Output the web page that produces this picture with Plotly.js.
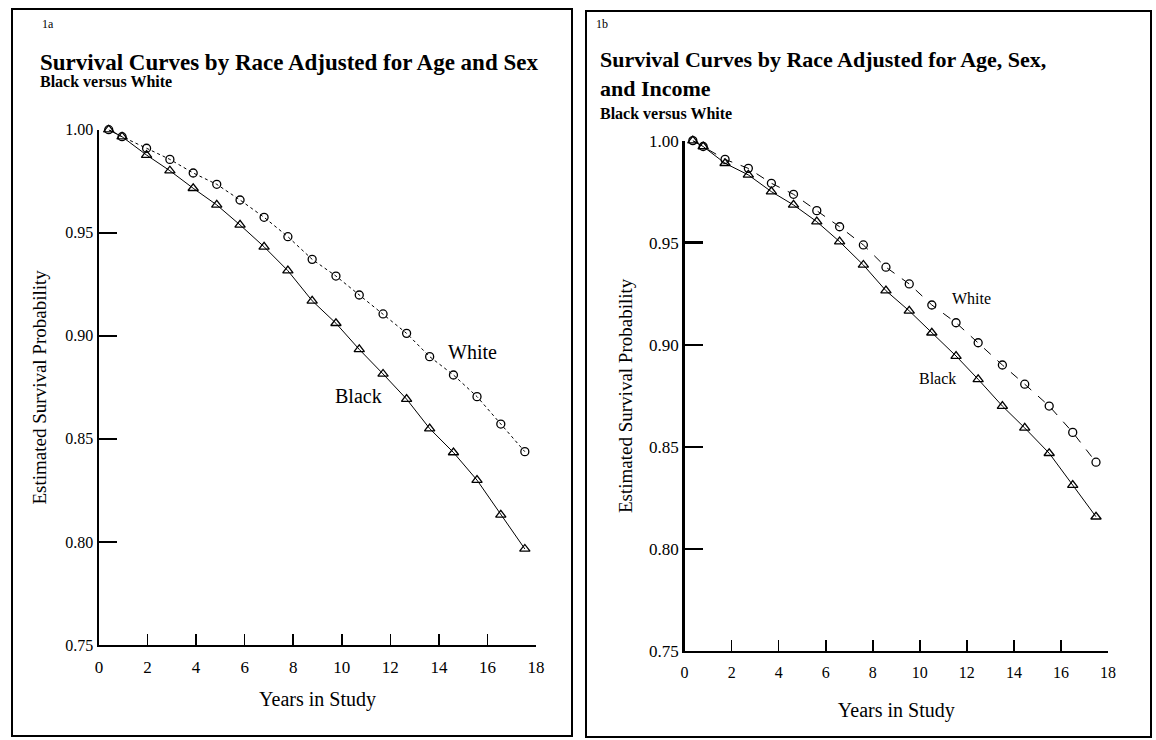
<!DOCTYPE html>
<html><head><meta charset="utf-8">
<script src="https://cdn.plot.ly/plotly-3.0.1.min.js"></script>
<style>html,body{margin:0;padding:0;background:#fff}#chart{width:1156px;height:740px}</style>
</head><body><div id="chart"></div>
<script>
// ---- Data ----
const yearsA = [0.4, 0.95, 1.96, 2.92, 3.88, 4.85, 5.81, 6.80, 7.78, 8.78, 9.76, 10.72, 11.70, 12.67, 13.62, 14.60, 15.57, 16.55, 17.54];
const whiteA = [1.000, 0.9966, 0.9910, 0.9856, 0.9790, 0.9735, 0.9659, 0.9575, 0.9481, 0.9371, 0.9290, 0.9198, 0.9106, 0.9012, 0.8899, 0.8810, 0.8705, 0.8572, 0.8438];
const blackA = [1.000, 0.9966, 0.9877, 0.9801, 0.9716, 0.9635, 0.9538, 0.9432, 0.9316, 0.9170, 0.9061, 0.8934, 0.8815, 0.8693, 0.8550, 0.8434, 0.8300, 0.8131, 0.7966];

const yearsB = [0.35, 0.79, 1.72, 2.71, 3.69, 4.63, 5.62, 6.59, 7.60, 8.56, 9.55, 10.51, 11.54, 12.48, 13.51, 14.46, 15.50, 16.50, 17.49];
const whiteB = [1.000, 0.9971, 0.9908, 0.9864, 0.9791, 0.9737, 0.9657, 0.9578, 0.9489, 0.9380, 0.9298, 0.9195, 0.9108, 0.9010, 0.8901, 0.8807, 0.8700, 0.8571, 0.8425];
const blackB = [1.000, 0.9971, 0.9889, 0.9832, 0.9750, 0.9685, 0.9603, 0.9505, 0.9391, 0.9265, 0.9166, 0.9059, 0.8945, 0.8831, 0.8700, 0.8593, 0.8469, 0.8313, 0.8158];

const xTicks = [0, 2, 4, 6, 8, 10, 12, 14, 16, 18];
const yTicks = [0.75, 0.80, 0.85, 0.90, 0.95, 1.00];

const panelTags = ['1a', '1b'];
const titleA = 'Survival Curves by Race Adjusted for Age and Sex';
const titleB = 'Survival Curves by Race Adjusted for Age, Sex,<br>and Income';
const subTitle = 'Black versus White';
const xTitle = 'Years in Study';
const yTitle = 'Estimated Survival Probability';

// ---- Layout helpers ----
const W = 1156, H = 740;
const px = x => x / W;
const py = y => 1 - y / H;
const serif = 'Liberation Serif, Times New Roman, serif';

function trace(x, y, xa, ya, sym, dash, name) {
  return {
    type: 'scatter', mode: 'lines+markers', x: x, y: y, xaxis: xa, yaxis: ya, name: name,
    line: {color: '#000', width: 1, dash: dash},
    marker: {symbol: sym, size: sym.startsWith('triangle') ? 9 : 8, color: '#000', line: {color: '#000', width: 1.3}},
    cliponaxis: false, showlegend: false, hoverinfo: 'x+y'
  };
}

const data = [
  trace(yearsA, whiteA, 'x', 'y', 'circle-open', 'dot', 'White'),
  trace(yearsA, blackA, 'x', 'y', 'triangle-up-open', 'solid', 'Black'),
  trace(yearsB, whiteB, 'x2', 'y2', 'circle-open', 'dash', 'White'),
  trace(yearsB, blackB, 'x2', 'y2', 'triangle-up-open', 'solid', 'Black')
];

function xAxis(dom, anchor, fs, standoff) {
  return {
    domain: dom, anchor: anchor, range: [0, 18], tickvals: xTicks, ticks: 'inside', ticklen: 11, tickwidth: 1.6,
    tickcolor: '#000', showline: true, linewidth: 2, linecolor: '#000', showgrid: false, zeroline: false,
    tickfont: {family: serif, size: fs, color: '#000'}, ticklabelstandoff: 6,
    title: {text: xTitle, font: {family: serif, size: 20, color: '#000'}, standoff: standoff}, fixedrange: true
  };
}
function yAxis(dom, anchor, fs, standoff) {
  return {
    domain: dom, anchor: anchor, range: [0.75, 1.0], tickvals: yTicks, tickformat: '.2f', ticks: 'inside', ticklen: 18, tickwidth: 2.5,
    tickcolor: '#000', showline: true, linewidth: 2.5, linecolor: '#000', showgrid: false, zeroline: false,
    tickfont: {family: serif, size: fs, color: '#000'},
    title: {text: yTitle, font: {family: serif, size: 19, color: '#000'}, standoff: standoff}, fixedrange: true
  };
}

const ann = (x, y, text, size, bold, xanchor) => ({
  xref: 'paper', yref: 'paper', x: px(x), y: py(y), text: bold ? '<b>' + text + '</b>' : text,
  showarrow: false, xanchor: xanchor || 'left', yanchor: 'middle', align: 'left',
  font: {family: serif, size: size, color: '#000'}
});

const layout = {
  width: W, height: H, margin: {l: 0, r: 0, t: 0, b: 0},
  paper_bgcolor: '#fff', plot_bgcolor: 'rgba(0,0,0,0)', showlegend: false,
  xaxis: xAxis([px(99), px(536)], 'y', 17, 16),
  yaxis: yAxis([py(645), py(129.7)], 'x', 16, 14),
  xaxis2: xAxis([px(684.6), px(1108)], 'y2', 16, 23),
  yaxis2: yAxis([py(651.1), py(140.6)], 'x2', 17, 12),
  shapes: [
    {type: 'rect', xref: 'paper', yref: 'paper', x0: px(12), x1: px(572), y0: py(736), y1: py(9), line: {color: '#000', width: 2}},
    {type: 'rect', xref: 'paper', yref: 'paper', x0: px(586), x1: px(1151), y0: py(737), y1: py(11), line: {color: '#000', width: 2}}
  ],
  annotations: [
    ann(40, 24, panelTags[0], 12, false),
    ann(38, 62, titleA, 23, true),
    ann(38, 81, subTitle, 16, true),
    ann(594, 24, panelTags[1], 12, false),
    ann(598, 74, titleB, 22, true),
    ann(598, 114, subTitle, 16, true),
    // series labels (data coordinates)
    {xref: 'x', yref: 'y', x: 15.4, y: 0.8921, text: 'White', showarrow: false, xanchor: 'center', yanchor: 'middle', font: {family: serif, size: 20, color: '#000'}},
    {xref: 'x', yref: 'y', x: 10.67, y: 0.8708, text: 'Black', showarrow: false, xanchor: 'center', yanchor: 'middle', font: {family: serif, size: 20, color: '#000'}},
    {xref: 'x2', yref: 'y2', x: 12.21, y: 0.9229, text: 'White', showarrow: false, xanchor: 'center', yanchor: 'middle', font: {family: serif, size: 16, color: '#000'}},
    {xref: 'x2', yref: 'y2', x: 10.76, y: 0.8837, text: 'Black', showarrow: false, xanchor: 'center', yanchor: 'middle', font: {family: serif, size: 16, color: '#000'}}
  ]
};

Plotly.newPlot('chart', data, layout, {displayModeBar: false, staticPlot: true});
</script>
</body></html>
